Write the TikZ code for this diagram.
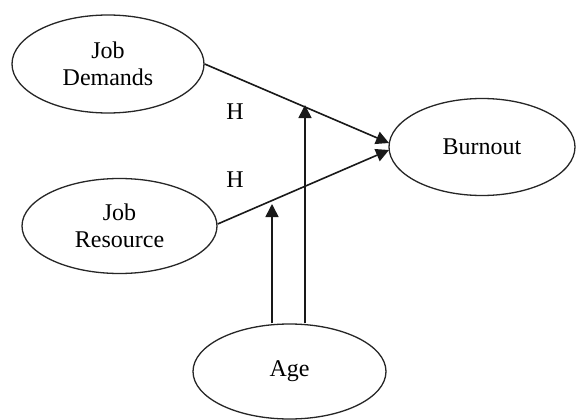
\documentclass[tikz,border=0pt]{standalone}
\usepackage{fontspec}
\setmainfont{Liberation Serif}
\usetikzlibrary{shapes.geometric,arrows.meta}
\begin{document}
\begin{tikzpicture}[x=1pt,y=-1pt,
  oval/.style={ellipse,draw=black!85,line width=1.3pt,inner sep=0pt,
    minimum width=193pt,minimum height=97pt,align=center,
    font=\fontsize{24}{27.5}\selectfont},
  conn/.style={line width=1.6pt,draw=black!90,-{Triangle[length=13pt,width=13pt]}},
  lbl/.style={font=\fontsize{24}{28}\selectfont,inner sep=0pt}]
\useasboundingbox (0,0) rectangle (576,420);
\fill[white] (0,0) rectangle (576,420);
\node[oval,minimum width=192pt,minimum height=98pt] (jd) at (108,64) {Job\\Demands};
\node[oval,minimum width=195pt,minimum height=95pt] (jr) at (119.5,226) {Job\\Resource};
\node[oval,minimum width=186pt] (bo) at (482,147) {Burnout};
\node[oval,minimum height=95pt] (age) at (289.5,371.5) {\raisebox{-3pt}{Age}};
\coordinate (b1) at (389,143);
\coordinate (b2) at (389,150);
\coordinate (a1) at (272,204);
\coordinate (a2) at (305,105);
\draw[conn] (jd.east) -- (b1);
\draw[conn] ([yshift=2pt]jr.east) -- (b2);
\draw[conn] (age.north -| a1) -- (a1);
\draw[conn] (age.north -| a2) -- (a2);
\node[lbl] (h1) at (235,112) {H};
\node[lbl] (h2) at (235,180) {H};
\end{tikzpicture}
\end{document}
